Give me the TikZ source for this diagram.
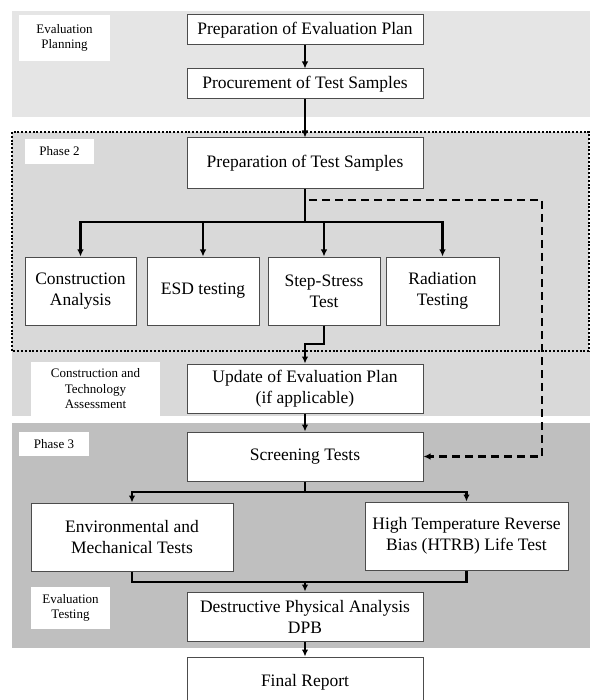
\documentclass[tikz,border=0pt]{standalone}
\usepackage{fontspec}
\setmainfont{Liberation Serif}
\usetikzlibrary{arrows.meta}

\begin{document}
\begin{tikzpicture}[x=1pt,y=-1pt]
		\tikzstyle box_style=[draw=black!70,fill=white,line width=1pt,align=center,inner sep=2pt,font=\fontsize{17.5}{21}\selectfont];
		\tikzstyle tag_style=[fill=white,align=center,inner sep=2pt,font=\fontsize{13}{15.5}\selectfont];
		\tikzstyle flow_style=[line width=2.4pt,-{Latex[length=7pt,width=6.5pt]}];
		\tikzstyle join_style=[line width=2.4pt];
		\useasboundingbox (0,0) rectangle (590,700);
		\clip (0,0) rectangle (590,700);

		% BACKGROUND BANDS
		\fill[gray!20] (12,11) rectangle (590,117);
		\fill[gray!30] (12,351) rectangle (590,416);
		\filldraw[fill=gray!30,line width=2pt,dash pattern=on 2pt off 1.8pt] (12,132) rectangle (589,351);
		\fill[gray!50] (12,423) rectangle (590,648);

		% PHASE TAGS
		\node[tag_style,minimum width=91pt,minimum height=46pt] (tplan) at (64.5,38) {Evaluation\\Planning};
		\node[tag_style,minimum width=69pt,minimum height=25pt] (tphase2) at (59.5,151.5) {Phase 2};
		\node[tag_style,minimum width=129pt,minimum height=54pt] (tassess) at (95.5,389) {Construction and\\Technology\\Assessment};
		\node[tag_style,minimum width=70pt,minimum height=24pt] (tphase3) at (54,444) {Phase 3};
		\node[tag_style,minimum width=79pt,minimum height=42pt] (ttest) at (70.5,608) {Evaluation\\Testing};

		% STEPS
		\node[box_style,minimum width=236pt,minimum height=30pt] (prepplan) at (305,30) {Preparation of Evaluation Plan};
		\node[box_style,minimum width=236pt,minimum height=30pt] (procure) at (305,84) {Procurement of Test Samples};
		\node[box_style,minimum width=236pt,minimum height=51pt] (prepsamp) at (305,163.5) {Preparation of Test Samples};

		\node[box_style,minimum width=111pt,minimum height=68pt] (constr) at (80.5,291) {Construction\\Analysis};
		\node[box_style,minimum width=112pt,minimum height=68pt] (esd) at (203,291) {ESD testing};
		\node[box_style,minimum width=112pt,minimum height=68pt] (stepstress) at (324,291) {Step-Stress\\Test};
		\node[box_style,minimum width=113pt,minimum height=68pt] (radiation) at (442.5,291) {Radiation\\Testing};

		\node[box_style,minimum width=236pt,minimum height=49pt] (update) at (305,388.5) {Update of Evaluation Plan\\(if applicable)};
		\node[box_style,minimum width=236pt,minimum height=49pt] (screen) at (305,456.5) {Screening Tests};
		\node[box_style,minimum width=202pt,minimum height=68pt] (envmech) at (132,537) {Environmental and\\Mechanical Tests};
		\node[box_style,minimum width=203pt,minimum height=68pt] (htrb) at (466.5,536) {High Temperature Reverse\\Bias (HTRB) Life Test};
		\node[box_style,minimum width=236pt,minimum height=49pt] (dpa) at (305,616.5) {Destructive Physical Analysis\\DPB};
		\node[box_style,minimum width=236pt,minimum height=50pt] (report) at (305,682) {Final Report};

		% HELPER POINTS
		\coordinate (fork1) at (305,222);
		\coordinate (jog) at (305,344);
		\coordinate (fork2) at (305,492);
		\coordinate (merge) at (305,582);
		\coordinate (dstart) at (309,200);
		\coordinate (dcorner) at (542,200);

		% CONNECTORS
		\draw[flow_style] (prepplan) -- (procure);
		\draw[flow_style] (procure) -- (prepsamp);
		\draw[join_style] (prepsamp.south) -- (fork1);
		\foreach \n in {constr,esd,stepstress,radiation}
			\draw[flow_style] (fork1) -| (\n.north);
		\draw[flow_style] (stepstress.south) |- (jog) -- (update.north);
		\draw[flow_style] (update) -- (screen);
		\draw[join_style] (screen.south) -- (fork2);
		\foreach \n in {envmech,htrb}
			\draw[flow_style] (fork2) -| (\n.north);
		\draw[join_style] (envmech.south) |- (merge) -| (htrb.south);
		\draw[flow_style] (merge) -- (dpa.north);
		\draw[flow_style] (dpa) -- (report);

		% DASHED RETURN TO SCREENING
		\draw[flow_style,dash pattern=on 8pt off 5pt] (dstart) -- (dcorner) |- (screen.east);
\end{tikzpicture}
\end{document}
